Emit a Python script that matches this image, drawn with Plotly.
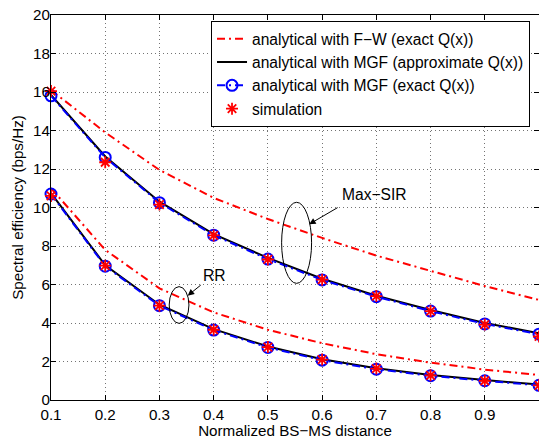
import plotly.graph_objects as go

# ---- data ----
distance = [0.1, 0.2, 0.3, 0.4, 0.5, 0.6, 0.7, 0.8, 0.9, 1.0]

fw_maxsir = [16.1, 13.9, 11.95, 10.5, 9.4, 8.42, 7.5, 6.72, 5.92, 5.2]
mgf_approx_maxsir = [15.85, 12.65, 10.3, 8.62, 7.38, 6.3, 5.42, 4.68, 4.0, 3.47]
mgf_exact_maxsir = [15.8, 12.6, 10.25, 8.56, 7.32, 6.24, 5.37, 4.62, 3.95, 3.42]
sim_maxsir = [16.05, 12.35, 10.15, 8.55, 7.3, 6.25, 5.4, 4.62, 3.92, 3.3]

fw_rr = [11.0, 7.8, 5.8, 4.55, 3.65, 2.95, 2.38, 1.94, 1.58, 1.3]
mgf_approx_rr = [10.75, 7.0, 4.95, 3.68, 2.78, 2.12, 1.65, 1.3, 1.04, 0.8]
mgf_exact_rr = [10.7, 6.95, 4.9, 3.63, 2.73, 2.07, 1.6, 1.26, 1.0, 0.76]
sim_rr = [10.6, 6.98, 4.9, 3.65, 2.75, 2.1, 1.63, 1.28, 1.0, 0.76]

series_names = [
    "analytical with F\u2212W (exact Q(x))",
    "analytical with MGF (approximate Q(x))",
    "analytical with MGF (exact Q(x))",
    "simulation",
]

x_tick_vals = [0.1, 0.2, 0.3, 0.4, 0.5, 0.6, 0.7, 0.8, 0.9]
x_tick_text = ["0.1", "0.2", "0.3", "0.4", "0.5", "0.6", "0.7", "0.8", "0.9"]
y_tick_vals = [0, 2, 4, 6, 8, 10, 12, 14, 16, 18, 20]

FONT = "Liberation Sans, Arial, Helvetica, sans-serif"
FS = 15.6
TFS = 15.2
DASHDOT = "8px,4px,2px,4px"

fig = go.Figure()

groups = [
    (fw_maxsir, mgf_approx_maxsir, mgf_exact_maxsir, sim_maxsir, True),
    (fw_rr, mgf_approx_rr, mgf_exact_rr, sim_rr, False),
]

for fw, approx, exact, sim, show in groups:
    fig.add_trace(go.Scatter(
        x=distance, y=fw, mode="lines", name=series_names[0],
        legendgroup="fw", showlegend=show,
        line=dict(color="red", width=2, dash=DASHDOT), cliponaxis=False))
    fig.add_trace(go.Scatter(
        x=distance, y=approx, mode="lines", name=series_names[1],
        legendgroup="approx", showlegend=show,
        line=dict(color="black", width=2), cliponaxis=False))
    fig.add_trace(go.Scatter(
        x=distance, y=exact, mode="lines+markers", name=series_names[2],
        legendgroup="exact", showlegend=show,
        line=dict(color="blue", width=2, dash=DASHDOT),
        marker=dict(symbol="circle-open", size=11, color="blue",
                    line=dict(width=2, color="blue")),
        cliponaxis=False))
    fig.add_trace(go.Scatter(
        x=distance, y=sim, mode="markers", name=series_names[3],
        legendgroup="sim", showlegend=show,
        marker=dict(symbol="asterisk-open", size=10, color="red",
                    line=dict(width=1.8, color="red")),
        cliponaxis=False))

axis_common = dict(
    showline=True, linecolor="black", linewidth=1, mirror="ticks",
    ticks="inside", ticklen=5, tickcolor="black", tickwidth=1,
    showgrid=True, gridcolor="rgba(0,0,0,0.55)", gridwidth=1, griddash="1px,3px",
    zeroline=False, automargin=False,
    tickfont=dict(family=FONT, size=TFS, color="black"),
)

fig.update_xaxes(
    range=[0.1, 1.0], tickvals=x_tick_vals, ticktext=x_tick_text,
    ticklabelstandoff=1,
    title=dict(text="Normalized BS\u2212MS distance", standoff=0,
               font=dict(family=FONT, size=TFS, color="black")),
    **axis_common)
fig.update_yaxes(
    range=[0, 20], tickvals=y_tick_vals,
    ticklabelstandoff=-3,
    title=dict(text="Spectral efficiency (bps/Hz)", standoff=5,
               font=dict(family=FONT, size=TFS, color="black")),
    **axis_common)

# ellipses
fig.add_shape(type="circle", xref="x", yref="y", x0=0.5253, x1=0.5806,
              y0=6.06, y1=10.27, line=dict(color="black", width=1))
fig.add_shape(type="circle", xref="x", yref="y", x0=0.318, x1=0.3544,
              y0=3.98, y1=5.89, line=dict(color="black", width=1))

# arrows
fig.add_annotation(x=0.5761, y=9.13, ax=0.6314, ay=10.04, axref="x", ayref="y",
                   xref="x", yref="y", text="", showarrow=True, arrowhead=2,
                   arrowsize=1.3, arrowwidth=1, arrowcolor="black")
fig.add_annotation(x=0.352, y=5.42, ax=0.3789, ay=6.03, axref="x", ayref="y",
                   xref="x", yref="y", text="", showarrow=True, arrowhead=2,
                   arrowsize=1.3, arrowwidth=1, arrowcolor="black")
# labels
fig.add_annotation(x=0.696, y=10.65, xref="x", yref="y", text="Max\u2212SIR",
                   showarrow=False, font=dict(family=FONT, size=FS, color="black"))
fig.add_annotation(x=0.4017, y=6.49, xref="x", yref="y", text="RR",
                   showarrow=False, font=dict(family=FONT, size=FS, color="black"))

fig.update_layout(
    width=539, height=439,
    margin=dict(l=51, r=0, t=15, b=39, autoexpand=False),
    paper_bgcolor="white", plot_bgcolor="white",
    font=dict(family=FONT, size=FS, color="black"),
    legend=dict(x=0.9816, y=0.984, xanchor="right", yanchor="top",
                bgcolor="white", bordercolor="black", borderwidth=1,
                font=dict(family=FONT, size=FS, color="black"),
                tracegroupgap=0, itemwidth=30),
    showlegend=True,
)

# remove the default page margin so the figure sits at the window's corner
fig.write_html("out.html",
               config={"displayModeBar": False},
               post_script="document.body.style.margin='0';document.body.style.overflow='hidden';")
